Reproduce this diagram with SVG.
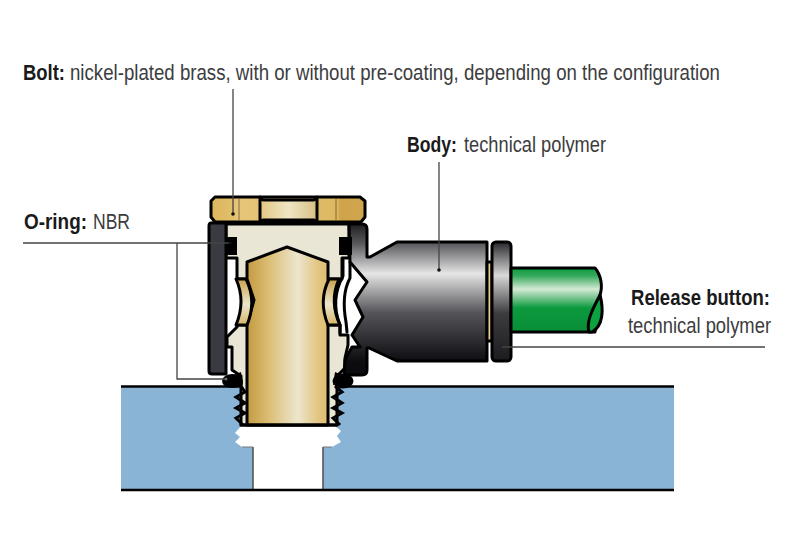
<svg xmlns="http://www.w3.org/2000/svg" width="787" height="551" viewBox="0 0 787 551">
<style>
.o{stroke:#000;stroke-width:3;stroke-linejoin:round;stroke-linecap:round}
.c{fill:#e9e6d5}
.t{font-family:"Liberation Sans",Arial,sans-serif;font-size:22px;fill:#3c3c3e}
.b{font-weight:bold;fill:#1a1a1a}
.l{fill:none;stroke:#444;stroke-width:1.300}
.d{fill:#111}
</style>
<defs>
<linearGradient id="stud" x1="0" x2="1" y1="0" y2="0"><stop offset="0" stop-color="#c39a40"/><stop offset=".25" stop-color="#dcbd74"/><stop offset=".58" stop-color="#ece6cd"/><stop offset=".82" stop-color="#e2c581"/><stop offset="1" stop-color="#dcb966"/></linearGradient>
<linearGradient id="clip" x1="0" x2="0" y1="0" y2="1"><stop offset="0" stop-color="#c9a24c"/><stop offset=".55" stop-color="#ece6cd"/><stop offset="1" stop-color="#d6b666"/></linearGradient>
<linearGradient id="brass" x1="0" x2="1" y1="0" y2="0"><stop offset="0" stop-color="#dcb45c"/><stop offset=".15" stop-color="#e2c06c"/><stop offset=".17" stop-color="#e6c67c"/><stop offset=".82" stop-color="#dcb860"/><stop offset=".84" stop-color="#cfa349"/><stop offset="1" stop-color="#d0a64c"/></linearGradient>
<linearGradient id="brass2" x1="0" x2="1" y1="0" y2="0"><stop offset="0" stop-color="#e4c782"/><stop offset=".5" stop-color="#f0e6c4"/><stop offset="1" stop-color="#d8bf85"/></linearGradient>
<linearGradient id="brass3" x1="0" x2="1" y1="0" y2="0"><stop offset="0" stop-color="#e0c070"/><stop offset="1" stop-color="#c49a3e"/></linearGradient>
<linearGradient id="body" gradientUnits="userSpaceOnUse" x1="0" x2="0" y1="224" y2="362"><stop offset="0" stop-color="#1e1e22"/><stop offset=".14" stop-color="#58585c"/><stop offset=".36" stop-color="#e6e6e6"/><stop offset=".64" stop-color="#55555a"/><stop offset="1" stop-color="#0c0c10"/></linearGradient>
<linearGradient id="fl" x1="0" x2="0" y1="0" y2="1"><stop offset="0" stop-color="#28282c"/><stop offset=".28" stop-color="#d8d8d8"/><stop offset=".6" stop-color="#3c3c40"/><stop offset="1" stop-color="#1c1c20"/></linearGradient>
<linearGradient id="green" x1="0" x2="0" y1="0" y2="1"><stop offset="0" stop-color="#0b9a3e"/><stop offset=".12" stop-color="#35a95c"/><stop offset=".33" stop-color="#d5ead6"/><stop offset=".62" stop-color="#0c9a3e"/><stop offset="1" stop-color="#0a8e38"/></linearGradient>
</defs>
<g id="plate">
<rect x="121" y="386" width="553" height="104" fill="#89b4d5"/>
<path d="M242,425L235,433L240,437L235,442L242,447H253V490H323V447H332L341,442L337,436L341,431L334,425Z" fill="#fff"/>
<path d="M253,447V490M323,447V490" stroke="#555" stroke-width="1.600" fill="none"/>
<path d="M242,447H253M323,447H332" stroke="#777" stroke-width="1"/>
<path d="M121,386.500H240M337,386.500H674" stroke="#000" stroke-width="2.600"/>
<path d="M121,490H674" stroke="#000" stroke-width="2.600"/>
</g>
<g id="fitting">
<path class="c o" d="M237,325H340V335H348V345L345,358V368L337,376V425H241V376L232,370V347H227V337L237,327Z"/>
<path class="c o" d="M226,224H349V258H342V279H237V258H226Z"/>
<path d="M247,262L287,247L328,262V279L334,300L328,325V425H247V325L254,300L247,279Z" fill="url(#stud)" class="o"/>
<path d="M236,279H246Q257,301 247,325H236Q246,301 236,279Z" fill="url(#clip)" class="o"/>
<path d="M339,279H329Q318,301 328,325H340Q329,301 339,279Z" fill="url(#clip)" class="o"/>
<path d="M343,260V276Q330,300 340,325V333" fill="none" class="o"/>
<path d="M350,262V278Q341,295 346,322L347,332" fill="none" class="o"/>
<path d="M241,386L245,392L236,397L245,403L236,408L245,413L236,418L243,425" fill="none" stroke="#000" stroke-width="3"/>
<path d="M335,386L342,392L333,397L342,403L333,408L342,413L333,418L340,425" fill="none" stroke="#000" stroke-width="3"/>
<path d="M241,425H337" class="o"/>
</g>
<g id="left-wall"><path d="M211,223H226V374H212Q209,374 209,371V226Q209,223 211,223Z" fill="#3a3a42" class="o"/></g>
<g id="body-part">
<path d="M349,224H362Q367,224 367,229V257H370L397,242H487V361H397L369,348H367V370Q367,375 362,375H344L345,360L352,347H360L352,335L363,317L355,300L367,282L350,262Z" fill="url(#body)" class="o"/>
<rect x="487" y="262" width="5" height="79" fill="#e6cf96" class="o"/>
<rect x="492" y="242" width="19" height="119" rx="4" fill="url(#fl)" class="o"/>
<path d="M511,268H595C601,275 603,286 600,295L595,332H511Z" fill="url(#green)" class="o"/>
<path d="M600,295C604,310 603,326 592,332H589C586,322 592,310 600,295Z" fill="#0da23f" class="o"/>
</g>
<g id="o-rings">
<path d="M226,237H237V255H226Z" fill="#000"/>
<path d="M339,237H352V255H339Z" fill="#000"/>
<ellipse cx="232.500" cy="381" rx="10.500" ry="7" fill="#000"/>
<path d="M234,375L241,372L243,385L236,382Z" fill="#000"/>
<ellipse cx="343" cy="381" rx="10.500" ry="7.500" fill="#000"/>
<path d="M342,375L335,372L333,385L340,382Z" fill="#000"/>
</g>
<g id="bolt">
<path d="M215,197H360L365,201V217L361,222H215L211,217V201Z" fill="url(#brass)" class="o"/>
<path d="M239,198V221M336,198V221" stroke="#6a5528" stroke-width=".8"/>
<path d="M260,197L263,200H314L317,197V222L314,220H263L260,222Z" fill="url(#brass2)" class="o"/>
</g>
<g id="connectors">
<path class="l" d="M233,89V214"/>
<path class="l" d="M439,162V270"/>
<path class="l" d="M23,243H230M177,243V379H226"/>
<path class="l" d="M502,347H765"/>
<circle class="d" cx="233" cy="214" r="1.800"/><circle class="d" cx="439" cy="270" r="1.800"/><circle class="d" cx="230" cy="243" r="1.500"/><circle fill="#666" cx="226" cy="379" r="1.500"/>
</g>
<g id="labels">
<text class="t b" x="23" y="80" textLength="42" lengthAdjust="spacingAndGlyphs">Bolt:</text>
<text class="t" x="70" y="80" textLength="650" lengthAdjust="spacingAndGlyphs">nickel-plated brass, with or without pre-coating, depending on the configuration</text>
<text class="t b" x="407" y="152" textLength="50" lengthAdjust="spacingAndGlyphs">Body:</text>
<text class="t" x="464" y="152" textLength="142" lengthAdjust="spacingAndGlyphs">technical polymer</text>
<text class="t b" x="24" y="229" textLength="63" lengthAdjust="spacingAndGlyphs">O-ring:</text>
<text class="t" x="93" y="229" textLength="37" lengthAdjust="spacingAndGlyphs">NBR</text>
<text class="t b" x="631" y="305" textLength="139" lengthAdjust="spacingAndGlyphs">Release button:</text>
<text class="t" x="628" y="333" textLength="143" lengthAdjust="spacingAndGlyphs">technical polymer</text>
</g>
</svg>
